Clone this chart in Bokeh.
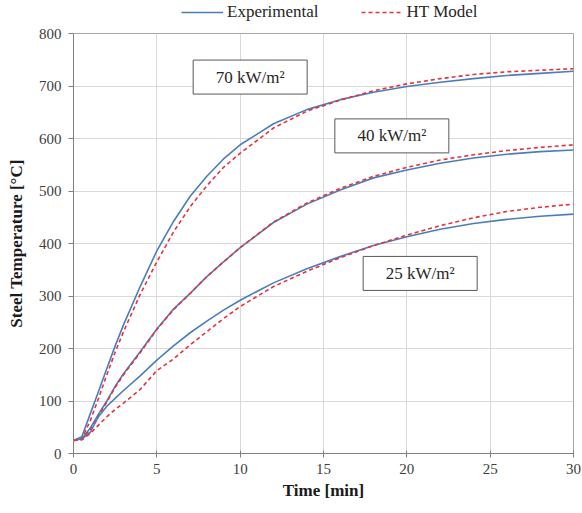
from bokeh.plotting import figure
from bokeh.layouts import column
from bokeh.models import Legend, LegendItem, Range1d, FixedTicker, ColumnDataSource
from bokeh.embed import file_html
from bokeh.resources import INLINE
from bokeh.core.properties import value

# ---- data ----
time_min = [0, 0.5, 1, 1.5, 2, 2.5, 3, 4, 5, 6, 7, 8, 9, 10, 12, 14, 16, 18, 20, 22, 24, 26, 28, 30]

exp_70 = [25, 32, 75, 118, 162, 205, 245, 318, 386, 442, 490, 528, 561, 588, 628, 655, 674, 688, 699, 707, 714, 720, 724, 728]
mod_70 = [25, 28, 62, 105, 150, 193, 232, 303, 365, 422, 470, 510, 545, 572, 620, 652, 673, 691, 704, 714, 722, 727, 730, 733]

exp_40 = [25, 28, 48, 75, 100, 128, 152, 194, 237, 275, 305, 337, 365, 392, 440, 475, 502, 525, 540, 553, 563, 570, 575, 578]
mod_40 = [25, 27, 45, 72, 98, 126, 150, 192, 236, 274, 305, 337, 365, 392, 441, 477, 505, 528, 545, 559, 569, 577, 583, 588]

exp_25 = [25, 28, 40, 70, 90, 105, 120, 148, 178, 205, 230, 252, 273, 292, 325, 352, 375, 396, 413, 427, 438, 446, 452, 456]
mod_25 = [25, 26, 38, 54, 70, 84, 96, 122, 158, 180, 207, 232, 257, 280, 318, 347, 373, 396, 416, 434, 449, 461, 469, 475]

series_names = ["Experimental", "HT Model"]
x_ticks = [0, 5, 10, 15, 20, 25, 30]
y_ticks = [0, 100, 200, 300, 400, 500, 600, 700, 800]

box_texts = ["70 kW/m\u00b2", "40 kW/m\u00b2", "25 kW/m\u00b2"]
box_x = [10.6, 19.1, 20.8]
box_y = [717, 605, 343]

FONT = "Liberation Serif"
BLUE = "#4a7ebb"
RED = "#e8323c"

# ---- main chart ----
p = figure(width=582, height=490, output_backend="svg", toolbar_location=None,
           x_range=Range1d(0, 30), y_range=Range1d(0, 800),
           min_border_left=73, min_border_right=9, min_border_top=10, min_border_bottom=60)

p.background_fill_color = "white"
p.border_fill_color = "white"
p.outline_line_color = "#a6a6a6"
p.outline_line_width = 1

p.xgrid.grid_line_color = "#d9d9d9"
p.ygrid.grid_line_color = "#d9d9d9"

p.xaxis.ticker = FixedTicker(ticks=x_ticks)
p.yaxis.ticker = FixedTicker(ticks=y_ticks)
p.xaxis.minor_tick_line_color = None
p.yaxis.minor_tick_line_color = None
for ax in (p.xaxis, p.yaxis):
    ax.axis_line_color = "#808080"
    ax.major_tick_line_color = "#808080"
    ax.major_label_text_font = FONT
    ax.major_label_text_font_size = "15px"
    ax.major_label_text_color = "#404040"
    ax.axis_label_text_font = FONT
    ax.axis_label_text_font_size = "17px"
    ax.axis_label_text_font_style = "bold"
    ax.axis_label_text_color = "#1a1a1a"
p.xaxis.major_tick_in = 3
p.xaxis.major_tick_out = 4
p.yaxis.major_tick_in = 0
p.yaxis.major_tick_out = 5
p.xaxis.major_label_standoff = 6
p.yaxis.major_label_standoff = 7
p.xaxis.axis_label = "Time [min]"
p.yaxis.axis_label = "Steel Temperature [\u00b0C]"
p.xaxis.axis_label_standoff = 4
p.yaxis.axis_label_standoff = 10

for e, m in ((exp_70, mod_70), (exp_40, mod_40), (exp_25, mod_25)):
    p.line(time_min, e, line_color=BLUE, line_width=1.6)
    p.line(time_min, m, line_color=RED, line_width=1.6, line_dash="4 3")

src = ColumnDataSource(dict(x=box_x, y=box_y, t=box_texts))
p.rect(x="x", y="y", width=114, height=34, width_units="screen", height_units="screen",
       fill_color="white", line_color="#595959", line_width=1, source=src)
p.text(x="x", y="y", text="t", text_font=value(FONT), text_font_size="17px",
       text_align="center", text_baseline="middle", text_color="#262626", source=src)

# ---- legend strip above the chart (its frame is aligned with the chart frame) ----
lg = figure(width=582, height=23, output_backend="svg", toolbar_location=None,
            x_range=Range1d(-100, -99), y_range=Range1d(-100, -99),
            x_axis_location=None, y_axis_location=None,
            min_border_left=73, min_border_right=9, min_border_top=0, min_border_bottom=0)
lg.grid.visible = False
lg.outline_line_color = None
lg.background_fill_color = "white"
lg.border_fill_color = "white"
# same series drawn outside the strip's visible range: only their legend glyphs show
le = lg.line(time_min, exp_70, line_color=BLUE, line_width=1.6)
lm = lg.line(time_min, mod_70, line_color=RED, line_width=1.6, line_dash="4 3")

legend = Legend(items=[LegendItem(label=series_names[0], renderers=[le]),
                       LegendItem(label=series_names[1], renderers=[lm])],
                orientation="horizontal", location=(108, 1))
legend.label_text_font = FONT
legend.label_text_font_size = "17px"
legend.label_text_color = "#262626"
legend.border_line_color = None
legend.background_fill_alpha = 0
legend.glyph_width = 42
legend.glyph_height = 16
legend.label_height = 16
legend.label_standoff = 4
legend.spacing = 42
legend.padding = 1
legend.margin = 0
lg.add_layout(legend, "center")

layout = column(lg, p, spacing=0)
open("out.html", "w").write(file_html(layout, INLINE))
